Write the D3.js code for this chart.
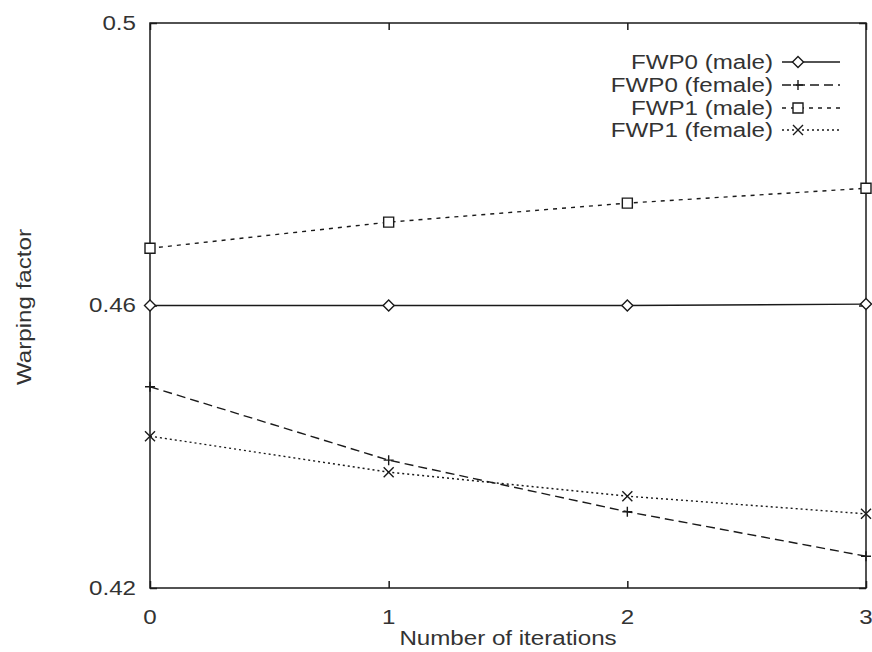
<!DOCTYPE html>
<html><head><meta charset="utf-8">
<script src="https://cdn.jsdelivr.net/npm/d3@7"></script>
<style>body{margin:0;background:#fff}svg{display:block}text{font-family:"Liberation Sans",Arial,sans-serif;font-weight:400;fill:#333}</style>
</head><body>
<svg id="c" width="872" height="652"></svg>
<script>
const iterations = [0, 1, 2, 3];
const seriesNames = ["FWP0 (male)", "FWP0 (female)", "FWP1 (male)", "FWP1 (female)"];
const fwp0Male = [0.4600, 0.4600, 0.4600, 0.4602];
const fwp0Female = [0.4485, 0.4381, 0.4308, 0.4245];
const fwp1Male = [0.4681, 0.4718, 0.4745, 0.4766];
const fwp1Female = [0.4415, 0.4364, 0.4330, 0.4305];
const yTicks = [0.42, 0.46, 0.5];
const yTickLabels = ["0.42", "0.46", "0.5"];
const xTicks = [0, 1, 2, 3];

const svg = d3.select("#c");
const L = 150, R = 866, T = 23, B = 588;
const x = d3.scaleLinear().domain([0, 3]).range([L, R]);
const y = d3.scaleLinear().domain([0.42, 0.5]).range([B, T]);
const ink = "#1a1a1a";
const SX = 1.15;

function label(px, py, str, anchor, rot) {
  const g = svg.append("g").attr("transform", `translate(${px},${py})` + (rot ? ` rotate(${rot})` : "") + ` scale(${SX},1)`);
  g.append("text").attr("text-anchor", anchor).attr("dominant-baseline", "central").attr("font-size", 21).text(str);
}

// frame
svg.append("rect").attr("x", L).attr("y", T).attr("width", R - L).attr("height", B - T)
  .attr("fill", "none").attr("stroke", ink).attr("stroke-width", 1.5);

// ticks (inward, all four sides) via axes
const tl = 7;
svg.append("g").attr("transform", `translate(0,${B})`)
  .call(d3.axisTop(x).tickValues(xTicks).tickSize(tl).tickFormat(""))
  .call(g => g.select(".domain").remove()).selectAll("line").attr("stroke", ink).attr("stroke-width", 1.5);
svg.append("g").attr("transform", `translate(0,${T})`)
  .call(d3.axisBottom(x).tickValues(xTicks).tickSize(tl).tickFormat(""))
  .call(g => g.select(".domain").remove()).selectAll("line").attr("stroke", ink).attr("stroke-width", 1.5);
svg.append("g").attr("transform", `translate(${L},0)`)
  .call(d3.axisRight(y).tickValues(yTicks).tickSize(tl).tickFormat(""))
  .call(g => g.select(".domain").remove()).selectAll("line").attr("stroke", ink).attr("stroke-width", 1.5);
svg.append("g").attr("transform", `translate(${R},0)`)
  .call(d3.axisLeft(y).tickValues(yTicks).tickSize(tl).tickFormat(""))
  .call(g => g.select(".domain").remove()).selectAll("line").attr("stroke", ink).attr("stroke-width", 1.5);

// tick labels
yTicks.forEach((v, i) => label(L - 14, y(v), yTickLabels[i], "end"));
xTicks.forEach(v => label(x(v), B + 29, String(v), "middle"));

// axis titles
label((L + R) / 2, 638, "Number of iterations", "middle");
label(24, 307, "Warping factor", "middle", -90);

// series
const dataSets = [fwp0Male, fwp0Female, fwp1Male, fwp1Female];
const dashes = [null, "9,5", "4,5", "2,3"];
const markers = ["diamond", "plus", "square", "cross"];

function marker(g, type, cx, cy) {
  const s = type === "diamond" ? 5.5 : 5;
  let d;
  if (type === "diamond") d = `M${cx},${cy - s}L${cx + s},${cy}L${cx},${cy + s}L${cx - s},${cy}Z`;
  if (type === "plus") d = `M${cx - s},${cy}H${cx + s}M${cx},${cy - s}V${cy + s}`;
  if (type === "square") d = `M${cx - s},${cy - s}H${cx + s}V${cy + s}H${cx - s}Z`;
  if (type === "cross") d = `M${cx - s},${cy - s}L${cx + s},${cy + s}M${cx + s},${cy - s}L${cx - s},${cy + s}`;
  g.append("path").attr("d", d).attr("fill", type === "diamond" || type === "square" ? "#fff" : "none")
    .attr("stroke", ink).attr("stroke-width", 1.4);
}

const line = d3.line().x((d, i) => x(iterations[i])).y(d => y(d));
dataSets.forEach((vals, k) => {
  svg.append("path").attr("d", line(vals)).attr("fill", "none").attr("stroke", ink)
    .attr("stroke-width", 1.4).attr("stroke-dasharray", dashes[k]);
  const g = svg.append("g");
  vals.forEach((v, i) => marker(g, markers[k], x(iterations[i]), y(v)));
});

// legend
const legY = [62, 85, 108, 130];
seriesNames.forEach((n, k) => {
  label(773, legY[k], n, "end");
  svg.append("line").attr("x1", 782).attr("x2", 840).attr("y1", legY[k]).attr("y2", legY[k])
    .attr("stroke", ink).attr("stroke-width", 1.3).attr("stroke-dasharray", dashes[k]);
  marker(svg.append("g"), markers[k], 798, legY[k]);
});
</script>
</body></html>
